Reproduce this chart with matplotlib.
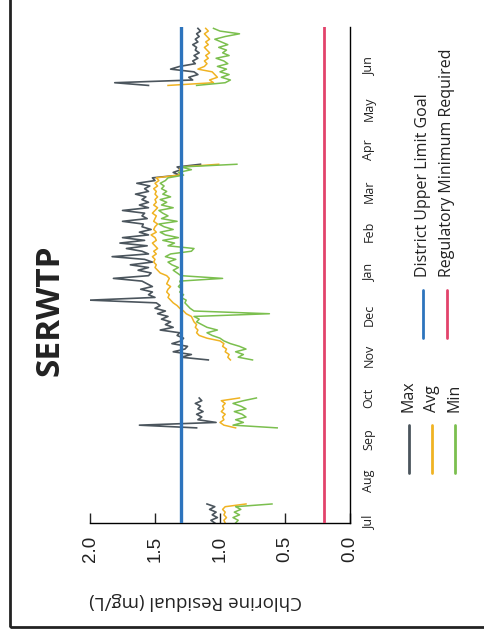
import numpy as np
import pandas as pd
import matplotlib
matplotlib.use("Agg")
import matplotlib.pyplot as plt
import matplotlib.dates as mdates
from matplotlib.lines import Line2D
from matplotlib.patches import Rectangle
from matplotlib.ticker import FormatStrFormatter

plt.rcParams["font.family"] = ["Open Sans", "DejaVu Sans"]

# sampling segments (one reading every 2 days inside a segment)
seg_start = ["2019-07-01", "2019-09-09", "2019-10-29", "2020-05-18"]
seg_len = [8, 12, 73, 22]

cl_max = [
    1.04, 1.07, 1.02, 1.06, 1.03, 1.08, 1.04, 1.10,
    1.18, 1.62, 1.03, 1.17, 1.14, 1.18, 1.13, 1.17, 1.15, 1.19, 1.14, 1.16,
    1.09, 1.30, 1.22, 1.36, 1.27, 1.25, 1.37, 1.30, 1.28, 1.33,
    1.31, 1.46, 1.36, 1.42, 1.38, 1.45, 1.40, 1.48, 1.42, 1.50,
    1.46, 1.49, 2.00, 1.50, 1.55, 1.52, 1.61, 1.52, 1.56, 1.60,
    1.82, 1.55, 1.53, 1.63, 1.55, 1.69, 1.52, 1.58, 1.83, 1.55,
    1.60, 1.72, 1.56, 1.77, 1.58, 1.75, 1.55, 1.62, 1.53, 1.60,
    1.59, 1.75, 1.56, 1.60, 1.58, 1.75, 1.55, 1.62, 1.55, 1.60,
    1.57, 1.65, 1.55, 1.58, 1.54, 1.64, 1.50, 1.52, 1.31, 1.36,
    1.30, 1.33, 1.15,
    1.55, 1.81, 1.21, 1.24, 1.17, 1.20, 1.38, 1.31, 1.19, 1.21, 1.17,
    1.20, 1.16, 1.19, 1.18, 1.21, 1.17, 1.19, 1.16, 1.18, 1.15, 1.17,
]
cl_avg = [
    0.96, 0.97, 0.95, 0.97, 0.96, 0.98, 0.96, 0.80,
    0.88, 0.97, 1.00, 0.97, 0.98, 0.96, 0.99, 0.97, 0.98, 0.96, 0.99, 0.85,
    0.92, 0.94, 0.93, 0.96, 0.95, 0.98, 0.97, 1.00, 1.10, 1.16,
    1.18, 1.17, 1.19, 1.18, 1.20, 1.21, 1.22, 1.26, 1.28, 1.31,
    1.33, 1.36, 1.38, 1.40, 1.39, 1.41, 1.40, 1.38, 1.41, 1.40,
    1.39, 1.41, 1.46, 1.48, 1.50, 1.49, 1.51, 1.50, 1.52, 1.49,
    1.51, 1.48, 1.50, 1.52, 1.49, 1.50, 1.53, 1.49, 1.51, 1.50,
    1.48, 1.51, 1.50, 1.49, 1.52, 1.50, 1.48, 1.51, 1.49, 1.50,
    1.48, 1.50, 1.49, 1.51, 1.48, 1.50, 1.47, 1.49, 1.32, 1.30,
    1.31, 1.30, 1.01,
    1.40, 1.05, 1.08, 1.02, 1.04, 1.06, 1.17, 1.12, 1.10, 1.12, 1.09,
    1.11, 1.08, 1.10, 1.12, 1.09, 1.11, 1.08, 1.10, 1.12, 1.09, 1.11,
]
cl_min = [
    0.88, 0.86, 0.90, 0.85, 0.89, 0.84, 0.88, 0.60,
    0.56, 0.90, 0.82, 0.88, 0.80, 0.83, 0.89, 0.80, 0.84, 0.90, 0.82, 0.72,
    0.75, 0.86, 0.82, 0.88, 0.80, 0.85, 0.92, 0.97, 1.00, 1.06,
    1.10, 1.02, 1.10, 1.14, 1.18, 1.16, 1.20, 0.62, 1.20, 1.23,
    1.25, 1.27, 1.26, 1.30, 1.28, 1.31, 1.29, 1.32, 1.30, 1.31,
    0.98, 1.30, 1.33, 1.36, 1.32, 1.37, 1.40, 1.34, 1.42, 1.38,
    1.22, 1.20, 1.40, 1.35, 1.44, 1.32, 1.42, 1.46, 1.36, 1.43,
    1.47, 1.33, 1.45, 1.40, 1.44, 1.47, 1.36, 1.45, 1.41, 1.46,
    1.38, 1.44, 1.41, 1.45, 1.43, 1.46, 1.42, 1.40, 1.28, 1.32,
    1.22, 1.30, 0.87,
    1.18, 0.96, 0.92, 0.99, 0.93, 1.00, 0.95, 1.02, 0.94, 0.97, 1.03,
    0.93, 0.98, 0.95, 1.01, 0.94, 0.99, 1.04, 0.96, 0.85, 1.00, 1.05,
]

upper_goal = 1.3
reg_min = 0.2

c_max = "#4b555d"
c_avg = "#f0b323"
c_min = "#7bbf4e"
c_blue = "#2d74bd"
c_red = "#e2436b"

# build date axis with gaps between sampling segments
dates, vmax, vavg, vmin = [], [], [], []
i = 0
for start, n in zip(seg_start, seg_len):
    d = pd.date_range(start, periods=n, freq="2D")
    dates += list(d) + [d[-1] + pd.Timedelta(days=1)]
    vmax += cl_max[i:i + n] + [np.nan]
    vavg += cl_avg[i:i + n] + [np.nan]
    vmin += cl_min[i:i + n] + [np.nan]
    i += n

W, H = 485, 639
fig = plt.figure(figsize=(W / 100, H / 100), dpi=100)

# chart is drawn turned a quarter turn: values run right to left, dates upward
ax = fig.add_axes([90 / W, 1 - 523 / H, 260 / W, 496 / H])

ax.plot(vmax, dates, color=c_max, lw=1.2)
ax.plot(vavg, dates, color=c_avg, lw=1.1)
ax.plot(vmin, dates, color=c_min, lw=1.1)
ax.axvline(upper_goal, color=c_blue, lw=2.4, zorder=5)
ax.axvline(reg_min, color=c_red, lw=2.0, zorder=5)

ax.set_xlim(2.0, 0.0)
ax.set_ylim(pd.Timestamp("2019-07-01"), pd.Timestamp("2020-06-30"))

for s in ["left", "top"]:
    ax.spines[s].set_visible(False)
for s in ["right", "bottom"]:
    ax.spines[s].set_linewidth(1.0)

ax.set_xticks([0.0, 0.5, 1.0, 1.5, 2.0])
ax.xaxis.set_major_formatter(FormatStrFormatter("%.1f"))
ax.tick_params(axis="x", direction="in", length=7, width=1, pad=9,
               labelsize=13.5, labelrotation=90, colors="#222222")
for lab in ax.get_xticklabels():
    lab.set_family("Liberation Sans")

ax.yaxis.tick_right()
ax.yaxis.set_major_locator(mdates.MonthLocator())
ax.yaxis.set_major_formatter(mdates.DateFormatter("%b"))
ax.tick_params(axis="y", length=0, pad=9, labelsize=9, labelrotation=90,
               colors="#222222")
for lab in ax.get_yticklabels():
    lab.set_va("center")

# title and axis label
fig.text(50 / W, 1 - 310 / H, "SERWTP", rotation=90, fontsize=24,
         fontweight="bold", ha="center", va="center", color="#222222")
fig.text(196 / W, 1 - 601 / H, "Chlorine Residual (mg/L)", rotation=180,
         fontsize=13.5, ha="center", va="center", color="#222222")

# legend (drawn turned, like the chart)
leg = [
    (409, 425, 473, c_max, "Max"),
    (432, 425, 473, c_avg, "Avg"),
    (455, 425, 473, c_min, "Min"),
    (423, 290, 338, c_blue, "District Upper Limit Goal"),
    (447, 290, 338, c_red, "Regulatory Minimum Required"),
]
for x, y0, y1, col, txt in leg:
    fig.add_artist(Line2D([x / W, x / W], [1 - y0 / H, 1 - y1 / H],
                          color=col, lw=2.0, solid_capstyle="round"))
    fig.text(x / W, 1 - (y0 - 13) / H, txt, rotation=90, fontsize=11.5,
             ha="center", va="bottom", color="#222222")

# outer frame, cut by the image edge at top and right
fig.add_artist(Rectangle((10 / W, 1 - 627 / H), 1.2, 1.2, fill=False,
                         edgecolor="#222222", lw=2.0,
                         transform=fig.transFigure, clip_on=False))

fig.savefig("out.png", dpi=100)
